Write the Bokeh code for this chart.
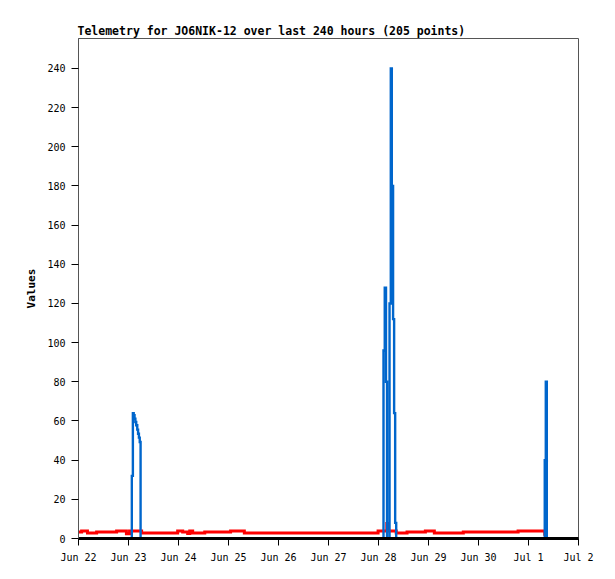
from bokeh.plotting import figure
from bokeh.models import Range1d, FixedTicker
from bokeh.embed import file_html
from bokeh.resources import INLINE

# Hours since Jun 22 00:00
red_hours = [0, 1.5, 4.3, 8.7, 18.3, 23.0, 24.5, 30.3, 47.6, 50.0, 52.4, 53.4, 54.8,
             60.6, 73.0, 79.6, 143.8, 148.0, 148.8, 152.5, 157.7, 166.5, 170.8,
             184.7, 211.0, 223.8, 224.3]
red_values = [3.3, 3.8, 2.8, 3.3, 3.8, 2.4, 3.8, 2.8, 3.8, 3.3, 2.5, 3.8, 2.8,
              3.3, 3.8, 2.8, 3.8, 7.6, 3.8, 2.8, 3.3, 3.8, 2.8,
              3.3, 3.8, 2.2, 2.2]

blue_hours = [0, 25.6, 26.1, 26.5, 26.9, 27.3, 27.7, 28.2, 28.6, 29.0, 29.4, 29.8,
              146.4, 147.0, 147.6, 148.1, 149.3, 149.9, 150.4, 151.0, 151.5, 152.0, 152.5,
              223.8, 224.3, 224.8, 225.0]
blue_values = [0, 32, 64, 63, 61.2, 59.5, 57.8, 55.6, 53.5, 51.5, 49.3, 0,
               96, 128, 80, 0, 120, 240, 180, 112, 64, 8, 0,
               40, 80, 0, 0]

x_tick_hours = [0, 24, 48, 72, 96, 120, 144, 168, 192, 216, 240]
x_tick_labels = ["Jun 22", "Jun 23", "Jun 24", "Jun 25", "Jun 26", "Jun 27",
                 "Jun 28", "Jun 29", "Jun 30", "Jul 1", "Jul 2"]
y_ticks = [0, 20, 40, 60, 80, 100, 120, 140, 160, 180, 200, 220, 240]

title_text = "Telemetry for JO6NIK-12 over last 240 hours (205 points)"

p = figure(width=600, height=573, output_backend="svg", toolbar_location=None,
           x_range=Range1d(0, 240), y_range=Range1d(0, 255.3),
           min_border_left=78, min_border_right=22, min_border_top=38,
           min_border_bottom=35, title=title_text)

p.background_fill_color = "white"
p.border_fill_color = "white"
p.outline_line_color = "#555555"
p.outline_line_width = 1
p.xgrid.visible = False
p.ygrid.visible = False

p.title.text_font = "DejaVu Sans Mono"
p.title.text_font_size = "11.5px"
p.title.text_font_style = "bold"
p.title.text_color = "black"
p.title.align = "left"
p.title.offset = -1
p.title.standoff = 2

p.xaxis.ticker = FixedTicker(ticks=x_tick_hours, minor_ticks=[])
p.xaxis.major_label_overrides = {h: lab for h, lab in zip(x_tick_hours, x_tick_labels)}
p.yaxis.ticker = FixedTicker(ticks=y_ticks, minor_ticks=[])

for ax in (p.xaxis[0], p.yaxis[0]):
    ax.major_label_text_font = "DejaVu Sans Mono"
    ax.major_label_text_font_size = "10px"
    ax.major_label_text_color = "black"
    ax.major_tick_in = 0
    ax.major_tick_out = 7
    ax.major_tick_line_color = "black"
    ax.minor_tick_line_color = None
    ax.major_label_standoff = 6

p.xaxis.axis_line_color = "black"
p.xaxis.axis_line_width = 3
p.yaxis.axis_line_color = "#555555"
p.yaxis.axis_line_width = 1

p.yaxis.axis_label = "Values"
p.yaxis.axis_label_text_font = "DejaVu Sans Mono"
p.yaxis.axis_label_text_font_size = "11px"
p.yaxis.axis_label_text_font_style = "bold"
p.yaxis.axis_label_text_color = "black"
p.yaxis.axis_label_standoff = 6

p.step(red_hours, red_values, mode="after", line_color="#ff0000", line_width=3,
       line_join="miter")
p.step(blue_hours, blue_values, mode="after", line_color="#0066cc", line_width=2.4,
       line_join="miter")

open("out.html", "w").write(file_html(p, INLINE))
